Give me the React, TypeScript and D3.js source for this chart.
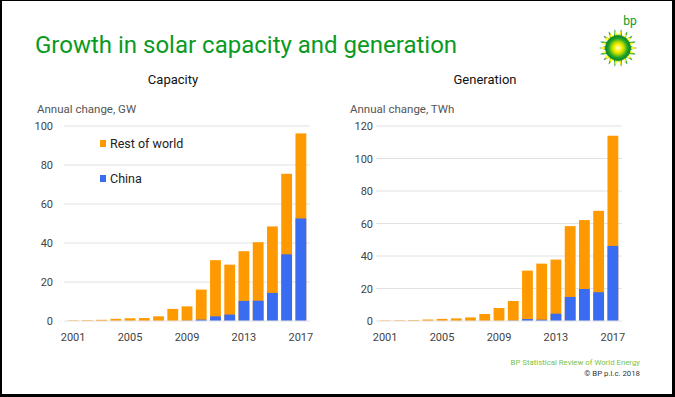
import React from 'react';
import { scaleBand, scaleLinear } from 'd3';

const years = [
  '2001', '2002', '2003', '2004', '2005', '2006', '2007', '2008', '2009',
  '2010', '2011', '2012', '2013', '2014', '2015', '2016', '2017',
];
const yearLabels = ['2001', '2005', '2009', '2013', '2017'];

// capacity, GW
const capacityTotal = [0.3, 0.4, 0.6, 1.1, 1.4, 1.5, 2.4, 6.2, 7.5, 16.1, 31.2, 28.9, 35.8, 40.4, 48.5, 75.5, 96.2];
const capacityChina = [0, 0, 0, 0, 0, 0, 0, 0, 0.1, 0.7, 2.4, 3.3, 10.3, 10.4, 14.4, 34.2, 52.6];
const capacityTicks = [0, 20, 40, 60, 80, 100];

// generation, TWh
const generationTotal = [0.3, 0.4, 0.5, 0.9, 1.3, 1.6, 2.2, 4.3, 8.0, 12.3, 31.0, 35.3, 37.8, 58.4, 62.1, 67.8, 114.0];
const generationChina = [0, 0, 0, 0, 0, 0, 0, 0, 0, 0.2, 1.2, 0.8, 4.5, 14.8, 19.7, 17.7, 46.2];
const generationTicks = [0, 20, 40, 60, 80, 100, 120];

const ORANGE = '#ff9900';
const BLUE = '#3a6cf2';
const GREEN = '#0a9a1f';
const FONT = 'Roboto, "Liberation Sans", sans-serif';

type PanelProps = {
  x0: number;
  x1: number;
  labelX: number;
  unitX: number;
  title: string;
  unit: string;
  total: number[];
  china: number[];
  ticks: number[];
  legend?: boolean;
};

const Panel: React.FC<PanelProps> = ({ x0, x1, labelX, unitX, title, unit, total, china, ticks, legend }) => {
  const top = 126;
  const bottom = 321;
  const y = scaleLinear().domain([0, ticks[ticks.length - 1]]).range([bottom, top]);
  const x = scaleBand<string>().domain(years).range([x0, x1]).paddingInner(0.24).paddingOuter(0.12);
  const gridL = x0 - 2;
  const gridR = x1 + 2;
  return (
    <g fontFamily={FONT}>
      <text x={(gridL + gridR) / 2 - 14} y={84} textAnchor="middle" fontSize={13} fill="#111">{title}</text>
      <text x={unitX} y={113} fontSize={11.5} fill="#555">{unit}</text>
      {ticks.map(t => (
        <g key={t}>
          {t > 0 && <line x1={gridL} x2={gridR} y1={y(t)} y2={y(t)} stroke="#e2e2e2" strokeWidth={1} />}
          <text x={labelX} y={y(t) + 4} textAnchor="end" fontSize={11} fill="#444">{t}</text>
        </g>
      ))}
      {years.map((yr, i) => (
        <g key={yr}>
          <rect x={x(yr)} width={x.bandwidth()} y={y(total[i])} height={y(0) - y(total[i])} fill={ORANGE} />
          {china[i] > 0 && (
            <rect x={x(yr)} width={x.bandwidth()} y={y(china[i])} height={y(0) - y(china[i])} fill={BLUE} />
          )}
        </g>
      ))}
      <line x1={gridL} x2={gridR} y1={y(0)} y2={y(0)} stroke="#e2e2e2" strokeWidth={1} />
      {yearLabels.map(yr => (
        <text key={yr} x={(x(yr) as number) + x.bandwidth() / 2} y={341} textAnchor="middle" fontSize={11} fill="#444">{yr}</text>
      ))}
      {legend && (
        <g fontSize={12.5} fill="#222">
          <rect x={100} y={140} width={6} height={7} fill={ORANGE} />
          <text x={110} y={148}>Rest of world</text>
          <rect x={100} y={175} width={6} height={7} fill={BLUE} />
          <text x={110} y={183}>China</text>
        </g>
      )}
    </g>
  );
};

const Sun: React.FC<{ cx: number; cy: number; r: number }> = ({ cx, cy, r }) => {
  const n = 18;
  const petals = Array.from({ length: n }, (_, i) => (i / n) * Math.PI * 2);
  return (
    <g>
      <defs>
        <radialGradient id="sunGrad" cx="50%" cy="50%" r="50%">
          <stop offset="0%" stopColor="#ffffff" />
          <stop offset="28%" stopColor="#fff200" />
          <stop offset="50%" stopColor="#b5d800" />
          <stop offset="72%" stopColor="#2fae24" />
          <stop offset="100%" stopColor="#007f2e" />
        </radialGradient>
      </defs>
      {petals.map((a, i) => {
        const pts = [
          [cx + Math.cos(a) * r, cy + Math.sin(a) * r],
          [cx + Math.cos(a + 0.2) * r * 0.6, cy + Math.sin(a + 0.2) * r * 0.6],
          [cx + Math.cos(a - 0.2) * r * 0.6, cy + Math.sin(a - 0.2) * r * 0.6],
        ];
        return <polygon key={i} points={pts.map(p => p.join(',')).join(' ')} fill="url(#sunGrad)" />;
      })}
      <circle cx={cx} cy={cy} r={r * 0.66} fill="url(#sunGrad)" />
    </g>
  );
};

export default function App() {
  return (
    <>
      <style>{'body{margin:0}'}</style>
      <svg width={675} height={397} style={{ display: 'block' }}>
        <rect x={0} y={0} width={675} height={397} fill="#000" />
        <rect x={2} y={1} width={670} height={393} fill="#fff" />
        <text x={35} y={53} fontFamily={FONT} fontSize={24} fill={GREEN}>Growth in solar capacity and generation</text>
        <text x={630} y={25} textAnchor="middle" fontFamily={FONT} fontSize={12} fill={GREEN}>bp</text>
        <Sun cx={618} cy={48} r={19} />
        <Panel
          x0={66}
          x1={308}
          labelX={53}
          unitX={37}
          title="Capacity"
          unit="Annual change, GW"
          total={capacityTotal}
          china={capacityChina}
          ticks={capacityTicks}
          legend
        />
        <Panel
          x0={378}
          x1={620}
          labelX={373}
          unitX={350}
          title="Generation"
          unit="Annual change, TWh"
          total={generationTotal}
          china={generationChina}
          ticks={generationTicks}
        />
        <text x={640} y={365} textAnchor="end" fontFamily={FONT} fontSize={7.8} fill="#7dc242">BP Statistical Review of World Energy</text>
        <text x={640} y={376} textAnchor="end" fontFamily={FONT} fontSize={7.8} fill="#333">© BP p.l.c. 2018</text>
      </svg>
    </>
  );
}
